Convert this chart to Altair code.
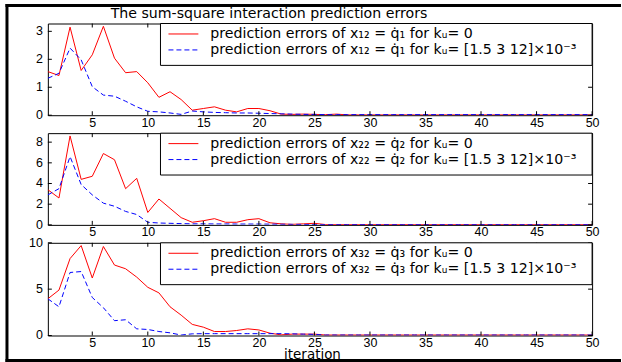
import altair as alt
import pandas as pd

# iteration index shared by all three panels
iterations = list(range(1, 51))

# sum-square prediction errors, k_u = 0 (red) and k_u = [1.5 3 12]e-3 (blue)
err_x12_ku0 = [1.56, 1.42, 3.15, 1.60, 2.16, 3.18, 2.04, 1.52, 1.56, 1.16,
               0.64, 0.84, 0.56, 0.18, 0.24, 0.30, 0.18, 0.12, 0.24, 0.24,
               0.16, 0.04, 0.03, 0.04, 0.03, 0.02, 0.04, 0.01, 0.01, 0.01,
               0.01, 0.01, 0.01, 0.01, 0.01, 0.01, 0.01, 0.01, 0.01, 0.01,
               0.01, 0.01, 0.01, 0.01, 0.01, 0.01, 0.01, 0.01, 0.01, 0.01]
err_x12_ku = [1.32, 1.50, 2.40, 1.98, 1.02, 0.72, 0.68, 0.50, 0.30, 0.14,
              0.12, 0.08, 0.03, 0.15, 0.12, 0.10, 0.09, 0.08, 0.08, 0.07,
              0.06, 0.05, 0.04, 0.03, 0.03, 0.02, 0.02, 0.02, 0.02, 0.02,
              0.02, 0.02, 0.02, 0.02, 0.02, 0.02, 0.02, 0.02, 0.02, 0.02,
              0.02, 0.02, 0.02, 0.02, 0.02, 0.02, 0.02, 0.02, 0.02, 0.02]

err_x22_ku0 = [3.40, 2.60, 8.60, 4.40, 4.70, 6.90, 6.30, 3.50, 4.50, 1.20,
               2.50, 1.60, 0.70, 0.25, 0.40, 0.60, 0.25, 0.25, 0.50, 0.60,
               0.20, 0.10, 0.05, 0.10, 0.15, 0.03, 0.03, 0.03, 0.03, 0.03,
               0.03, 0.03, 0.03, 0.03, 0.03, 0.03, 0.03, 0.03, 0.03, 0.03,
               0.03, 0.03, 0.03, 0.03, 0.03, 0.03, 0.03, 0.03, 0.03, 0.03]
err_x22_ku = [2.90, 3.50, 6.60, 3.90, 2.90, 2.10, 1.80, 1.30, 1.00, 0.25,
              0.18, 0.15, 0.12, 0.10, 0.10, 0.09, 0.09, 0.08, 0.08, 0.08,
              0.07, 0.06, 0.05, 0.04, 0.03, 0.03, 0.03, 0.03, 0.03, 0.03,
              0.03, 0.03, 0.03, 0.03, 0.03, 0.03, 0.03, 0.03, 0.03, 0.03,
              0.03, 0.03, 0.03, 0.03, 0.03, 0.03, 0.03, 0.03, 0.03, 0.03]

err_x32_ku0 = [3.96, 4.90, 8.30, 9.70, 6.20, 9.60, 7.60, 7.20, 6.30, 5.20,
               4.60, 3.10, 2.20, 1.20, 0.90, 0.43, 0.43, 0.54, 0.72, 0.60,
               0.25, 0.07, 0.15, 0.15, 0.15, 0.05, 0.05, 0.05, 0.05, 0.05,
               0.05, 0.05, 0.05, 0.05, 0.05, 0.05, 0.05, 0.05, 0.05, 0.05,
               0.05, 0.05, 0.05, 0.05, 0.05, 0.05, 0.05, 0.05, 0.05, 0.05]
err_x32_ku = [3.96, 3.10, 6.80, 6.90, 4.10, 3.00, 1.60, 1.70, 0.72, 0.65,
              0.43, 0.29, 0.05, 0.18, 0.20, 0.20, 0.20, 0.20, 0.20, 0.20,
              0.20, 0.20, 0.18, 0.15, 0.12, 0.05, 0.05, 0.05, 0.05, 0.05,
              0.05, 0.05, 0.05, 0.05, 0.05, 0.05, 0.05, 0.05, 0.05, 0.05,
              0.05, 0.05, 0.05, 0.05, 0.05, 0.05, 0.05, 0.05, 0.05, 0.05]

x_ticks = [5, 10, 15, 20, 25, 30, 35, 40, 45, 50]
y_ticks_1 = [0, 1, 2, 3]
y_ticks_2 = [0, 2, 4, 6, 8]
y_ticks_3 = [0, 5, 10]
y_max = [3.28, 8.87, 10]

legend_1 = ["prediction errors of  x\u2081\u2082 = q\u0307\u2081 for k\u1d64= 0",
            "prediction errors of  x\u2081\u2082 = q\u0307\u2081 for k\u1d64= [1.5 3 12]\u00d710\u207b\u00b3"]
legend_2 = ["prediction errors of  x\u2082\u2082 = q\u0307\u2082 for k\u1d64= 0",
            "prediction errors of  x\u2082\u2082 = q\u0307\u2082 for k\u1d64= [1.5 3 12]\u00d710\u207b\u00b3"]
legend_3 = ["prediction errors of  x\u2083\u2082 = q\u0307\u2083 for k\u1d64= 0",
            "prediction errors of  x\u2083\u2082 = q\u0307\u2083 for k\u1d64= [1.5 3 12]\u00d710\u207b\u00b3"]

title_text = "The sum-square interaction prediction errors"
x_title = "iteration"

W = 546
RED = "#ff0000"
BLUE = "#0000ff"
TXT_FONT = "DejaVu Sans"
TXT_SIZE = 14.2
TICK_FONT = "Liberation Sans"
TICK_SIZE = 12.5
one = pd.DataFrame({"k": [0]})


def bar(chart, x, x2, y, y2, color):
    """A filled rectangle given in pixels of the panel."""
    return chart.mark_rect(fill=color, strokeWidth=0).encode(
        x=alt.value(x), x2=alt.value(x2), y=alt.value(y), y2=alt.value(y2))


def panel(red, blue, ymax, yticks, labels, height, first=False, last=False):
    xs = alt.Scale(domain=[1, 50], nice=False, zero=False)
    ys = alt.Scale(domain=[0, ymax], nice=False)
    df = pd.DataFrame({"iteration": iterations, "red": red, "blue": blue})

    x_axis_kw = dict(values=x_ticks, ticks=False, grid=False, domain=False,
                     labelPadding=1, labelFont=TICK_FONT, labelFontSize=TICK_SIZE,
                     labelColor="black", labelFlush=False, labelOverlap=False)
    if last:
        x_axis_kw.update(titleFont=TXT_FONT, titleFontSize=13.5,
                         titleFontWeight="normal", titleColor="black",
                         titleX=265, titleY=23, titleBaseline="alphabetic")
    x_axis = alt.Axis(**x_axis_kw)
    # y tick labels are drawn as a text layer below
    y_axis = alt.Axis(values=yticks, ticks=False, grid=False, domain=False, labels=False)
    x_name = x_title if last else None

    base = alt.Chart(df)
    red_line = base.mark_line(color=RED, strokeWidth=1, clip=True).encode(
        x=alt.X("iteration:Q", scale=xs, axis=x_axis, title=x_name),
        y=alt.Y("red:Q", scale=ys, axis=y_axis, title=None),
    )
    blue_line = base.mark_line(color=BLUE, strokeWidth=1, strokeDash=[5, 3], clip=True).encode(
        x=alt.X("iteration:Q", scale=xs, title=x_name),
        y=alt.Y("blue:Q", scale=ys, title=None),
    )

    # inward tick marks on all four sides of the box, plus y tick labels
    xt = alt.Chart(pd.DataFrame({"t": x_ticks}))
    yt = alt.Chart(pd.DataFrame({"t": yticks}))
    tick_style = dict(color="black", strokeWidth=1)
    ticks = [
        xt.mark_rule(**tick_style).encode(x=alt.X("t:Q", scale=xs, title=x_name),
                                          y=alt.value(height), y2=alt.value(height - 4)),
        xt.mark_rule(**tick_style).encode(x=alt.X("t:Q", scale=xs, title=x_name),
                                          y=alt.value(0), y2=alt.value(4)),
        yt.mark_rule(**tick_style).encode(y=alt.Y("t:Q", scale=ys, title=None),
                                          x=alt.value(0), x2=alt.value(4)),
        yt.mark_rule(**tick_style).encode(y=alt.Y("t:Q", scale=ys, title=None),
                                          x=alt.value(W), x2=alt.value(W - 4)),
        yt.mark_text(align="right", baseline="middle", font=TICK_FONT,
                     fontSize=TICK_SIZE, color="black").encode(
            y=alt.Y("t:Q", scale=ys, title=None), x=alt.value(-5),
            text=alt.Text("t:Q")),
    ]

    # legend box in the upper right corner
    lb = alt.Chart(one)
    legend = [
        lb.mark_rect(fill="white", stroke="black", strokeWidth=1).encode(
            x=alt.value(113), x2=alt.value(W), y=alt.value(0), y2=alt.value(42)),
        lb.mark_rule(color=RED, strokeWidth=1).encode(
            x=alt.value(121), x2=alt.value(151), y=alt.value(10.5)),
        lb.mark_rule(color=BLUE, strokeWidth=1, strokeDash=[5, 3]).encode(
            x=alt.value(121), x2=alt.value(151), y=alt.value(26.5)),
        lb.mark_text(align="left", baseline="middle", font=TXT_FONT, fontSize=TXT_SIZE,
                     color="black").encode(x=alt.value(163), y=alt.value(10.5),
                                           text=alt.value(labels[0])),
        lb.mark_text(align="left", baseline="middle", font=TXT_FONT, fontSize=TXT_SIZE,
                     color="black").encode(x=alt.value(163), y=alt.value(26.5),
                                           text=alt.value(labels[1])),
    ]

    layers = [red_line, blue_line] + ticks + legend

    if first:
        deco = alt.Chart(one)
        layers += [
            deco.mark_text(align="left", baseline="alphabetic", font=TXT_FONT,
                           fontSize=TXT_SIZE, color="black").encode(
                x=alt.value(63), y=alt.value(-6), text=alt.value(title_text)),
            # page extent (white corners)
            bar(deco, -47, -46, -22, -21, "white"),
            bar(deco, 574, 575, 339, 340, "white"),
            # figure frame: left, top and bottom edges
            bar(deco, -42.5, -39.5, -19.5, 339.5, "black"),
            bar(deco, -42.5, 575, -19.5, -16.5, "black"),
            bar(deco, -42.5, 575, 336.5, 339.5, "black"),
        ]

    return alt.layer(*layers).properties(width=W, height=height)


p1 = panel(err_x12_ku0, err_x12_ku, y_max[0], y_ticks_1, legend_1, 92, first=True)
p2 = panel(err_x22_ku0, err_x22_ku, y_max[1], y_ticks_2, legend_2, 92)
p3 = panel(err_x32_ku0, err_x32_ku, y_max[2], y_ticks_3, legend_3, 93, last=True)

chart = (
    alt.vconcat(p1, p2, p3, spacing=18, bounds="flush")
    .properties(padding=0, background="white")
    .configure_view(stroke="black", strokeWidth=1)
)

chart.save("out.html", embed_options={"renderer": "svg", "actions": False})
